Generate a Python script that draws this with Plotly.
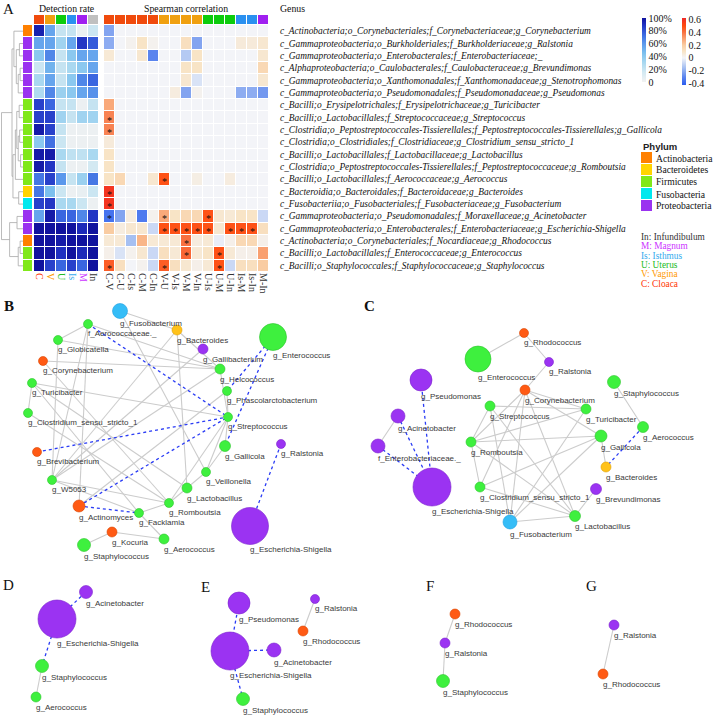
import plotly.graph_objects as go

W, H = 713, 715
SERIF = "Liberation Serif, Times New Roman, serif"
SANS = "Liberation Sans, Arial, sans-serif"

# ---------------- data : heatmap ----------------
genus_labels = [
    "c_Actinobacteria;o_Corynebacteriales;f_Corynebacteriaceae;g_Corynebacterium",
    "c_Gammaproteobacteria;o_Burkholderiales;f_Burkholderiaceae;g_Ralstonia",
    "c_Gammaproteobacteria;o_Enterobacterales;f_Enterobacteriaceae;_",
    "c_Alphaproteobacteria;o_Caulobacterales;f_Caulobacteraceae;g_Brevundimonas",
    "c_Gammaproteobacteria;o_Xanthomonadales;f_Xanthomonadaceae;g_Stenotrophomonas",
    "c_Gammaproteobacteria;o_Pseudomonadales;f_Pseudomonadaceae;g_Pseudomonas",
    "c_Bacilli;o_Erysipelotrichales;f_Erysipelotrichaceae;g_Turicibacter",
    "c_Bacilli;o_Lactobacillales;f_Streptococcaceae;g_Streptococcus",
    "c_Clostridia;o_Peptostreptococcales-Tissierellales;f_Peptostreptococcales-Tissierellales;g_Gallicola",
    "c_Clostridia;o_Clostridiales;f_Clostridiaceae;g_Clostridium_sensu_stricto_1",
    "c_Bacilli;o_Lactobacillales;f_Lactobacillaceae;g_Lactobacillus",
    "c_Clostridia;o_Peptostreptococcales-Tissierellales;f_Peptostreptococcaceae;g_Romboutsia",
    "c_Bacilli;o_Lactobacillales;f_Aerococcaceae;g_Aerococcus",
    "c_Bacteroidia;o_Bacteroidales;f_Bacteroidaceae;g_Bacteroides",
    "c_Fusobacteriia;o_Fusobacteriales;f_Fusobacteriaceae;g_Fusobacterium",
    "c_Gammaproteobacteria;o_Pseudomonadales;f_Moraxellaceae;g_Acinetobacter",
    "c_Gammaproteobacteria;o_Enterobacterales;f_Enterobacteriaceae;g_Escherichia-Shigella",
    "c_Actinobacteria;o_Corynebacteriales;f_Nocardiaceae;g_Rhodococcus",
    "c_Bacilli;o_Lactobacillales;f_Enterococcaceae;g_Enterococcus",
    "c_Bacilli;o_Staphylococcales;f_Staphylococcaceae;g_Staphylococcus",
]

phyla = ["Actinobacteria", "Bacteroidetes", "Firmicutes", "Fusobacteria", "Proteobacteria"]
row_phylum = ["Actinobacteria"] + ["Proteobacteria"] * 5 + ["Firmicutes"] * 7 + \
             ["Bacteroidetes", "Fusobacteria", "Proteobacteria", "Proteobacteria",
              "Actinobacteria", "Firmicutes", "Firmicutes"]

regions = ["C", "V", "U", "Is", "M", "In"]
region_names = ["Cloaca", "Vagina", "Uterus", "Isthmus", "Magnum", "Infundibulum"]
pairs = ["C-V", "C-U", "C-Is", "C-M", "C-In", "V-U", "V-Is", "V-M", "V-In",
         "U-Is", "U-M", "U-In", "Is-M", "Is-In", "M-In"]
pair_group = ["C"] * 5 + ["V"] * 4 + ["U"] * 3 + ["Is"] * 2 + ["M"]

# detection rate (%) : rows x [C, V, U, Is, M, In]
detection = [
    [95, 55, 20, 20, 4, 18],
    [55, 55, 33, 55, 88, 78],
    [40, 65, 20, 40, 55, 55],
    [18, 50, 20, 30, 40, 55],
    [30, 55, 20, 40, 65, 75],
    [28, 65, 35, 40, 55, 62],
    [85, 75, 20, 20, 3, 20],
    [85, 85, 33, 20, 33, 33],
    [97, 85, 20, 3, 3, 3],
    [40, 72, 18, 3, 3, 3],
    [97, 97, 30, 22, 22, 30],
    [97, 88, 20, 3, 3, 15],
    [70, 85, 60, 20, 35, 70],
    [70, 45, 18, 3, 5, 18],
    [85, 88, 30, 30, 18, 3],
    [55, 97, 75, 75, 65, 88],
    [100, 100, 100, 100, 92, 100],
    [100, 100, 97, 100, 100, 100],
    [100, 100, 90, 100, 92, 100],
    [100, 85, 75, 85, 75, 100],
]

# Spearman correlation : rows x pairs
correlation = [
    [-0.22, 0, 0, 0, 0, 0, 0, 0, 0, 0, 0, 0, 0, 0, 0],
    [-0.2, 0, 0.02, 0.1, 0.02, 0, 0, 0.12, -0.22, 0, 0, 0, 0.06, 0.06, 0.08],
    [0.07, 0, 0, 0.08, -0.3, 0, 0, -0.12, 0.1, 0, 0, 0, 0, 0, 0.08],
    [0, 0, 0, 0, 0, 0, 0, 0.1, 0.1, 0, 0, 0, 0, 0, 0.15],
    [0, 0, 0, 0, 0, 0, 0, 0.08, -0.05, 0, 0, 0, 0, 0, 0.08],
    [0, 0, 0, 0, 0, 0, 0.05, -0.22, 0.02, 0, 0, 0, -0.2, -0.2, -0.25],
    [0.28, 0, 0, 0, 0, 0, 0, 0, 0, 0, 0, 0, 0, 0, 0],
    [0.36, 0, 0, 0, 0, 0, 0, 0, 0, 0, 0, 0, 0, 0, 0],
    [0.36, 0, 0, 0, 0, 0, 0, 0, 0, 0, 0, 0, 0, 0, 0],
    [0.06, 0, 0, 0, 0, 0, 0, 0, 0, 0, 0, 0, 0, 0, 0],
    [0.1, 0, 0, 0, 0, 0, 0, 0, 0, 0, 0, 0, 0, 0, 0],
    [0.1, 0, 0, 0, 0, 0, 0, 0, 0, 0, 0, 0, 0, 0, 0],
    [0.1, 0.15, 0, 0, 0.08, 0.48, 0, 0, 0.04, 0, 0, 0.05, 0, 0, 0],
    [0.58, 0, 0, 0, 0, 0, 0, 0, 0, 0, 0, 0, 0, 0, 0],
    [0.58, 0, 0, 0, 0, 0, 0, 0, 0, 0, 0, 0, 0, 0, 0],
    [-0.35, -0.22, 0.05, -0.33, 0.02, 0.28, 0.1, 0.15, 0.15, 0.48, 0.08, 0.07, 0.1, 0.1, -0.08],
    [0.2, 0.05, 0.08, 0.08, -0.08, 0.48, 0.48, 0.48, 0.48, 0.48, 0.08, 0.48, 0.48, 0.48, 0.12],
    [0.07, 0.07, -0.15, 0.25, 0.07, 0.07, 0.07, 0.4, 0.05, 0.07, -0.02, 0.03, 0.15, 0.15, 0.03],
    [0.03, -0.05, 0.02, 0.08, -0.08, 0.12, 0.07, 0.42, 0.07, 0.1, 0.48, 0.07, 0.03, 0.03, 0.3],
    [0.45, 0.12, 0, 0.02, -0.08, 0.45, 0.12, 0.08, 0.03, 0.07, 0.48, -0.08, 0.12, 0.12, 0.2],
]

# significance ('1' = marked with *)
significance = [
    "000000000000000", "000000000000000", "000000000000000", "000000000000000",
    "000000000000000", "000000000000000", "000000000000000", "100000000000000",
    "100000000000000", "000000000000000", "000000000000000", "000000000000000",
    "000001000000000", "100000000000000", "100000000000000", "100001000100000",
    "000001111101110", "000000010000000", "000000010010000", "100001000010000",
]

# dendrogram merges (child a, child b, height); new clusters numbered from 20
merges = [
    (1, 2, 1.5), (3, 4, 1.2), (21, 5, 2.0), (20, 22, 2.8), (0, 23, 3.8),
    (6, 7, 1.6), (8, 9, 1.4), (10, 11, 1.0), (26, 27, 2.0), (25, 28, 2.6),
    (29, 12, 3.2), (13, 14, 1.8), (30, 31, 4.2), (24, 32, 4.6),
    (15, 16, 2.5), (17, 18, 1.2), (35, 19, 2.0), (34, 36, 5.6), (33, 37, 9.0),
]

# ---------------- data : networks ----------------
# (label, layout x, layout y, node size, phylum)
net_B_nodes = [
    ("g_Fusobacterium", 120, 311, 15, "Fusobacteria"),
    ("f_Aerococcaceae._", 88, 324, 9, "Firmicutes"),
    ("g_Bacteroides", 177, 330, 10, "Bacteroidetes"),
    ("g_Gallibacterium", 203, 349, 10, "Proteobacteria"),
    ("g_Enterococcus", 273, 337, 27, "Firmicutes"),
    ("g_Globicatella", 58, 340, 9, "Firmicutes"),
    ("g_Corynebacterium", 43, 361, 9, "Actinobacteria"),
    ("g_Helcococcus", 220, 369, 10, "Firmicutes"),
    ("g_Turicibacter", 32, 383, 9, "Firmicutes"),
    ("g_Phascolarctobacterium", 227, 391, 9, "Firmicutes"),
    ("g_Clostridium_sensu_stricto_1", 28, 413, 9, "Firmicutes"),
    ("g_Streptococcus", 228, 417, 9, "Firmicutes"),
    ("g_Brevibacterium", 37, 452, 9, "Actinobacteria"),
    ("g_Gallicola", 225, 446, 11, "Firmicutes"),
    ("g_Ralstonia", 281, 444, 9, "Proteobacteria"),
    ("g_Veillonella", 206, 472, 9, "Firmicutes"),
    ("g_W5053", 52, 480, 9, "Firmicutes"),
    ("g_Lactobacillus", 187, 488, 10, "Firmicutes"),
    ("g_Actinomyces", 79, 506, 12, "Actinobacteria"),
    ("g_Romboutsia", 169, 503, 9, "Firmicutes"),
    ("g_Facklamia", 139, 513, 9, "Firmicutes"),
    ("g_Kocuria", 112, 532, 10, "Actinobacteria"),
    ("g_Aerococcus", 164, 539, 10, "Firmicutes"),
    ("g_Staphylococcus", 84, 545, 13, "Firmicutes"),
    ("g_Escherichia-Shigella", 250, 526, 37, "Proteobacteria"),
]
net_B_pos = [
    ("g_Fusobacterium", "g_Bacteroides"), ("g_Fusobacterium", "g_Veillonella"),
    ("f_Aerococcaceae._", "g_Globicatella"), ("f_Aerococcaceae._", "g_W5053"),
    ("f_Aerococcaceae._", "g_Actinomyces"), ("f_Aerococcaceae._", "g_Helcococcus"),
    ("g_Globicatella", "g_Helcococcus"), ("g_Globicatella", "g_W5053"),
    ("g_Corynebacterium", "g_Helcococcus"), ("g_Corynebacterium", "g_Romboutsia"),
    ("g_Turicibacter", "g_Streptococcus"), ("g_Turicibacter", "g_Clostridium_sensu_stricto_1"),
    ("g_Turicibacter", "g_Lactobacillus"), ("g_Turicibacter", "g_Facklamia"),
    ("g_Clostridium_sensu_stricto_1", "g_Romboutsia"),
    ("g_Bacteroides", "g_Helcococcus"), ("g_Bacteroides", "g_W5053"),
    ("g_Bacteroides", "g_Lactobacillus"), ("g_Gallibacterium", "g_W5053"),
    ("g_Helcococcus", "g_Streptococcus"), ("g_Helcococcus", "g_W5053"),
    ("g_Phascolarctobacterium", "g_Streptococcus"), ("g_Phascolarctobacterium", "g_Actinomyces"),
    ("g_Streptococcus", "g_Gallicola"), ("g_Streptococcus", "g_Veillonella"),
    ("g_Streptococcus", "g_Romboutsia"), ("g_Gallicola", "g_Veillonella"),
    ("g_Veillonella", "g_Lactobacillus"), ("g_Lactobacillus", "g_Romboutsia"),
    ("g_W5053", "g_Romboutsia"), ("g_W5053", "g_Facklamia"),
    ("g_Romboutsia", "g_Facklamia"), ("g_Facklamia", "g_Aerococcus"),
    ("g_Kocuria", "g_Aerococcus"), ("g_Kocuria", "g_Staphylococcus"),
]
net_B_neg = [
    ("f_Aerococcaceae._", "g_Streptococcus"), ("g_Enterococcus", "g_Phascolarctobacterium"),
    ("g_Enterococcus", "g_Gallicola"), ("g_Brevibacterium", "g_Streptococcus"),
    ("g_Actinomyces", "g_Streptococcus"), ("g_Actinomyces", "g_Facklamia"),
    ("g_Ralstonia", "g_Escherichia-Shigella"),
]

net_C_nodes = [
    ("g_Rhodococcus", 524, 333, 9, "Actinobacteria"),
    ("g_Enterococcus", 478, 359, 26, "Firmicutes"),
    ("g_Ralstonia", 549, 362, 9, "Proteobacteria"),
    ("g_Pseudomonas", 421, 380, 22, "Proteobacteria"),
    ("g_Corynebacterium", 525, 390, 10, "Actinobacteria"),
    ("g_Staphylococcus", 614, 382, 13, "Firmicutes"),
    ("g_Streptococcus", 490, 406, 10, "Firmicutes"),
    ("g_Turicibacter", 586, 409, 10, "Firmicutes"),
    ("g_Acinetobacter", 398, 416, 14, "Proteobacteria"),
    ("g_Aerococcus", 643, 427, 11, "Firmicutes"),
    ("g_Gallicola", 601, 436, 12, "Firmicutes"),
    ("g_Romboutsia", 471, 442, 10, "Firmicutes"),
    ("f_Enterobacteriaceae._", 378, 446, 14, "Proteobacteria"),
    ("g_Bacteroides", 606, 467, 10, "Bacteroidetes"),
    ("g_Escherichia-Shigella", 432, 487, 38, "Proteobacteria"),
    ("g_Clostridium_sensu_stricto_1", 480, 487, 10, "Firmicutes"),
    ("g_Brevundimonas", 596, 489, 11, "Proteobacteria"),
    ("g_Lactobacillus", 575, 516, 11, "Firmicutes"),
    ("g_Fusobacterium", 510, 522, 14, "Fusobacteria"),
]
net_C_pos = [
    ("g_Rhodococcus", "g_Enterococcus"), ("g_Rhodococcus", "g_Ralstonia"),
    ("g_Ralstonia", "g_Corynebacterium"), ("g_Staphylococcus", "g_Aerococcus"),
    ("g_Acinetobacter", "f_Enterobacteriaceae._"),
    ("g_Corynebacterium", "g_Romboutsia"), ("g_Corynebacterium", "g_Turicibacter"),
    ("g_Corynebacterium", "g_Gallicola"), ("g_Corynebacterium", "g_Clostridium_sensu_stricto_1"),
    ("g_Corynebacterium", "g_Fusobacterium"), ("g_Corynebacterium", "g_Lactobacillus"),
    ("g_Streptococcus", "g_Turicibacter"), ("g_Streptococcus", "g_Romboutsia"),
    ("g_Streptococcus", "g_Lactobacillus"), ("g_Streptococcus", "g_Fusobacterium"),
    ("g_Turicibacter", "g_Romboutsia"), ("g_Turicibacter", "g_Fusobacterium"),
    ("g_Romboutsia", "g_Clostridium_sensu_stricto_1"), ("g_Romboutsia", "g_Gallicola"),
    ("g_Romboutsia", "g_Lactobacillus"),
    ("g_Gallicola", "g_Bacteroides"), ("g_Gallicola", "g_Clostridium_sensu_stricto_1"),
    ("g_Gallicola", "g_Fusobacterium"),
    ("g_Clostridium_sensu_stricto_1", "g_Lactobacillus"),
    ("g_Fusobacterium", "g_Lactobacillus"), ("g_Brevundimonas", "g_Lactobacillus"),
]
net_C_neg = [
    ("g_Pseudomonas", "g_Escherichia-Shigella"), ("g_Acinetobacter", "g_Escherichia-Shigella"),
    ("f_Enterobacteriaceae._", "g_Escherichia-Shigella"), ("g_Aerococcus", "g_Bacteroides"),
]

net_D_nodes = [
    ("g_Escherichia-Shigella", 57, 619, 38, "Proteobacteria"),
    ("g_Acinetobacter", 86, 592, 13, "Proteobacteria"),
    ("g_Staphylococcus", 42, 666, 13, "Firmicutes"),
    ("g_Aerococcus", 36, 697, 10, "Firmicutes"),
]
net_D_pos = [("g_Staphylococcus", "g_Aerococcus")]
net_D_neg = [("g_Escherichia-Shigella", "g_Acinetobacter"), ("g_Escherichia-Shigella", "g_Staphylococcus")]

net_E_nodes = [
    ("g_Pseudomonas", 239, 603, 22, "Proteobacteria"),
    ("g_Ralstonia", 315, 599, 9, "Proteobacteria"),
    ("g_Rhodococcus", 303, 631, 10, "Actinobacteria"),
    ("g_Escherichia-Shigella", 230, 651, 38, "Proteobacteria"),
    ("g_Acinetobacter", 274, 650, 14, "Proteobacteria"),
    ("g_Staphylococcus", 243, 699, 13, "Firmicutes"),
]
net_E_pos = [("g_Ralstonia", "g_Rhodococcus")]
net_E_neg = [("g_Pseudomonas", "g_Escherichia-Shigella"), ("g_Escherichia-Shigella", "g_Acinetobacter"),
             ("g_Escherichia-Shigella", "g_Staphylococcus")]

net_F_nodes = [
    ("g_Rhodococcus", 455, 614, 10, "Actinobacteria"),
    ("g_Ralstonia", 445, 643, 10, "Proteobacteria"),
    ("g_Staphylococcus", 443, 681, 13, "Firmicutes"),
]
net_F_pos = [("g_Rhodococcus", "g_Ralstonia"), ("g_Ralstonia", "g_Staphylococcus")]
net_F_neg = []

net_G_nodes = [
    ("g_Ralstonia", 614, 625, 10, "Proteobacteria"),
    ("g_Rhodococcus", 603, 674, 10, "Actinobacteria"),
]
net_G_pos = [("g_Ralstonia", "g_Rhodococcus")]
net_G_neg = []

# ---------------- styles ----------------
region_strip_color = {"C": "#f04a0c", "V": "#f0a010", "U": "#0ccc0c", "Is": "#2a90f0",
                      "M": "#a020f0", "In": "#c0c0c0"}
region_text_color = {"C": "#ff3300", "V": "#ff9900", "U": "#22bb22", "Is": "#33aaee",
                     "M": "#cc33ff", "In": "#333333"}
phylum_color = {"Actinobacteria": "#ff8000", "Bacteroidetes": "#ffd400", "Firmicutes": "#80e81a",
                "Fusobacteria": "#00e8ee", "Proteobacteria": "#9a32f0"}
node_color = {"Actinobacteria": "#ff5a14", "Bacteroidetes": "#ffc21a", "Firmicutes": "#3ef03e",
              "Fusobacteria": "#35bdf7", "Proteobacteria": "#9b33f2"}
node_line = {"Actinobacteria": "#d94400", "Bacteroidetes": "#dfa000", "Firmicutes": "#2cc42c",
             "Fusobacteria": "#1f9fe0", "Proteobacteria": "#7a22cc"}

det_scale = [[0, "#f2f2f2"], [0.15, "#d3e9f2"], [0.3, "#a9d8f0"], [0.45, "#7cc0ee"],
             [0.6, "#5b98ec"], [0.75, "#3a66e0"], [0.9, "#1f2fc0"], [1, "#10129e"]]
CZMIN, CZMAX = -0.42, 0.62


def cz(v):
    return (v - CZMIN) / (CZMAX - CZMIN)


corr_scale = [[0, "#2b5cf0"], [cz(-0.3), "#5a84ee"], [cz(-0.15), "#a6c0f2"], [cz(0), "#f3f4f8"],
              [cz(0.1), "#f8e4c6"], [cz(0.2), "#f9cca2"], [cz(0.3), "#f9a070"], [cz(0.4), "#f87040"],
              [cz(0.5), "#ff4a0c"], [1, "#ee2a2a"]]


def discrete_scale(colors):
    n = len(colors)
    sc = []
    for i, c in enumerate(colors):
        sc.append([i / n, c])
        sc.append([(i + 1) / n, c])
    return sc


# ---------------- figure ----------------
fig = go.Figure()
axes_layout = {}
n_axes = [0]


def new_axes(box, xr=None, yr=None, xextra=None, yextra=None):
    """box = (left, top, right, bottom) in figure pixels"""
    n_axes[0] += 1
    n = n_axes[0]
    s = "" if n == 1 else str(n)
    l, t, r, b = box
    base = dict(showgrid=False, zeroline=False, showticklabels=False, ticks="",
                showline=False, fixedrange=True)
    xa = dict(base)
    xa.update(domain=[l / W, r / W], anchor="y" + s)
    if xr is not None:
        xa["range"] = xr
    xa.update(xextra or {})
    ya = dict(base)
    ya.update(domain=[1 - b / H, 1 - t / H], anchor="x" + s)
    if yr is not None:
        ya["range"] = yr
    ya.update(yextra or {})
    axes_layout["xaxis" + s] = xa
    axes_layout["yaxis" + s] = ya
    return "x" + s, "y" + s


NR = len(genus_labels)
ROW_T, ROW_B = 25, 272
row_range = [NR - 0.5, -0.5]

# detection heatmap
xd, yd = new_axes((34, ROW_T, 99, ROW_B), [-0.5, 5.5], row_range,
                  xextra=dict(showticklabels=True, tickmode="array", tickvals=list(range(6)),
                              ticktext=['<span style="color:%s">%s</span>' % (region_text_color[r], r)
                                        for r in regions],
                              tickangle=90, tickfont=dict(family=SERIF, size=10)))
fig.add_trace(go.Heatmap(z=detection, x=list(range(6)), y=list(range(NR)), colorscale=det_scale,
                         zmin=0, zmax=100, xgap=1, ygap=1, xaxis=xd, yaxis=yd, hoverinfo="skip",
                         colorbar=dict(x=641.5 / W, xanchor="left", y=1 - 18 / H, yanchor="top",
                                       len=64, lenmode="pixels", thickness=4, thicknessmode="pixels",
                                       xpad=0, ypad=0, outlinewidth=0, ticks="",
                                       tickvals=[0, 20, 40, 60, 80, 100],
                                       ticktext=["0", "20%", "40%", "60%", "80%", "100%"],
                                       tickfont=dict(family=SERIF, size=10, color="#111"))))

# correlation heatmap
xc, yc = new_axes((104, ROW_T, 269, ROW_B), [-0.5, 14.5], row_range,
                  xextra=dict(showticklabels=True, tickmode="array", tickvals=list(range(15)),
                              ticktext=pairs, tickangle=90,
                              tickfont=dict(family=SERIF, size=10, color="#333")))
fig.add_trace(go.Heatmap(z=correlation, x=list(range(15)), y=list(range(NR)), colorscale=corr_scale,
                         zmin=CZMIN, zmax=CZMAX, xgap=1, ygap=1, xaxis=xc, yaxis=yc, hoverinfo="skip",
                         colorbar=dict(x=681.5 / W, xanchor="left", y=1 - 18 / H, yanchor="top",
                                       len=67, lenmode="pixels", thickness=4, thicknessmode="pixels",
                                       xpad=0, ypad=0, outlinewidth=0, ticks="",
                                       tickvals=[-0.4, -0.2, 0, 0.2, 0.4, 0.6],
                                       ticktext=["-0.4", "-0.2", "0", "0.2", "0.4", "0.6"],
                                       tickfont=dict(family=SERIF, size=10, color="#111"))))

# top strips
reg_colors = [region_strip_color[r] for r in regions]
xs1, ys1 = new_axes((34, 15, 99, 24), [-0.5, 5.5], [-0.5, 0.5])
fig.add_trace(go.Heatmap(z=[list(range(6))], x=list(range(6)), y=[0], colorscale=discrete_scale(reg_colors),
                         zmin=-0.5, zmax=5.5, xgap=1, showscale=False, xaxis=xs1, yaxis=ys1, hoverinfo="skip"))
xs2, ys2 = new_axes((104, 15, 269, 24), [-0.5, 14.5], [-0.5, 0.5])
fig.add_trace(go.Heatmap(z=[[regions.index(g) for g in pair_group]], x=list(range(15)), y=[0],
                         colorscale=discrete_scale(reg_colors), zmin=-0.5, zmax=5.5, xgap=1,
                         showscale=False, xaxis=xs2, yaxis=ys2, hoverinfo="skip"))

# phylum strip
ph_colors = [phylum_color[p] for p in phyla]
xp, yp = new_axes((23, ROW_T, 32, ROW_B), [-0.5, 0.5], row_range)
fig.add_trace(go.Heatmap(z=[[phyla.index(p)] for p in row_phylum], x=[0], y=list(range(NR)),
                         colorscale=discrete_scale(ph_colors), zmin=-0.5, zmax=4.5, ygap=1,
                         showscale=False, xaxis=xp, yaxis=yp, hoverinfo="skip"))

# dendrogram
pos = {i: (0.0, float(i)) for i in range(NR)}
dx, dy = [], []
for k, (a, b, h) in enumerate(merges):
    ha, ya = pos[a]
    hb, yb = pos[b]
    dx += [ha, h, h, hb, None]
    dy += [ya, ya, yb, yb, None]
    pos[NR + k] = (h, (ya + yb) / 2)
xdn, ydn = new_axes((1, ROW_T, 23, ROW_B), [9.2, 0], row_range)
fig.add_trace(go.Scatter(x=dx, y=dy, mode="lines", line=dict(color="#a8a8a8", width=0.8),
                         xaxis=xdn, yaxis=ydn, hoverinfo="skip", showlegend=False))

# phylum legend boxes
xl, yl = new_axes((641, 152, 652, 212), [-0.5, 0.5], [4.5, -0.5])
fig.add_trace(go.Heatmap(z=[[i] for i in range(5)], x=[0], y=list(range(5)),
                         colorscale=discrete_scale(ph_colors), zmin=-0.5, zmax=4.5, ygap=1,
                         showscale=False, xaxis=xl, yaxis=yl, hoverinfo="skip"))

annotations = []


def ann(text, x, y, size, family=SERIF, color="#111", xanchor="left", **kw):
    d = dict(text=text, x=x / W, y=1 - y / H, xref="paper", yref="paper", showarrow=False,
             xanchor=xanchor, yanchor="middle", font=dict(family=family, size=size, color=color))
    d.update(kw)
    annotations.append(d)


# genus labels
for i, g in enumerate(genus_labels):
    annotations.append(dict(text="<i>%s</i>" % g, x=278 / W, xref="paper", y=i, yref=yc,
                            showarrow=False, xanchor="left", yanchor="middle",
                            font=dict(family=SERIF, size=9.4, color="#111")))
# stars
for i, row in enumerate(significance):
    for j, flag in enumerate(row):
        if flag == "1":
            annotations.append(dict(text="*", x=j, y=i, xref=xc, yref=yc, showarrow=False,
                                    yshift=-2.5, font=dict(family=SERIF, size=10, color="#111")))

ann("A", 1, 9, 15)
ann("Detection rate", 67, 8, 9.8, xanchor="center")
ann("Spearman correlation", 186, 8, 9.8, xanchor="center")
ann("Genus", 278, 8, 9.8)
ann("<b>Phylum</b>", 641, 146, 9.5, family=SANS, color="#222")
for i, p in enumerate(phyla):
    ann(p, 654, 158 + 12 * i, 9.6)
for i, r in enumerate(reversed(regions)):
    ann("%s: %s" % (r, list(reversed(region_names))[i]), 639, 237 + 9.3 * i, 9.3,
        color=region_text_color[r] if r != "In" else "#333")

# networks
panels = [
    ("<b>B</b>", (2, 306), (0, 290, 360, 580), net_B_nodes, net_B_pos, net_B_neg),
    ("<b>C</b>", (362, 306), (357, 290, 713, 560), net_C_nodes, net_C_pos, net_C_neg),
    ("D", (1, 585), (0, 575, 190, 715), net_D_nodes, net_D_pos, net_D_neg),
    ("E", (199, 587), (190, 575, 370, 715), net_E_nodes, net_E_pos, net_E_neg),
    ("F", (424, 586), (400, 575, 570, 715), net_F_nodes, net_F_pos, net_F_neg),
    ("G", (584, 586), (570, 575, 713, 715), net_G_nodes, net_G_pos, net_G_neg),
]
for letter, lpos, box, nodes, pos_edges, neg_edges in panels:
    l, t, r, b = box
    xn, yn = new_axes(box, [l, r], [b, t])
    ann(letter, lpos[0], lpos[1], 15)
    lookup = {n[0]: n for n in nodes}
    for edges, style in ((pos_edges, dict(color="#cccccc", width=1.1)),
                         (neg_edges, dict(color="#2a3cf5", width=1.3, dash="dot"))):
        ex, ey = [], []
        for a, c in edges:
            ex += [lookup[a][1], lookup[c][1], None]
            ey += [lookup[a][2], lookup[c][2], None]
        if ex:
            fig.add_trace(go.Scatter(x=ex, y=ey, mode="lines", line=style, xaxis=xn, yaxis=yn,
                                     hoverinfo="skip", showlegend=False))
    fig.add_trace(go.Scatter(
        x=[n[1] for n in nodes], y=[n[2] for n in nodes], mode="markers",
        marker=dict(size=[n[3] for n in nodes], color=[node_color[n[4]] for n in nodes],
                    line=dict(color=[node_line[n[4]] for n in nodes], width=0.6), opacity=1),
        xaxis=xn, yaxis=yn, hoverinfo="skip", showlegend=False, cliponaxis=False))
    fig.add_trace(go.Scatter(
        x=[n[1] for n in nodes], y=[n[2] + n[3] / 2 + 1.5 for n in nodes], mode="text",
        text=[n[0] for n in nodes], textposition="bottom right",
        textfont=dict(family=SANS, size=8, color="#3a3a3a"),
        xaxis=xn, yaxis=yn, hoverinfo="skip", showlegend=False, cliponaxis=False))

fig.update_layout(width=W, height=H, margin=dict(l=0, r=0, t=0, b=0),
                  paper_bgcolor="white", plot_bgcolor="white", showlegend=False,
                  annotations=annotations, **axes_layout)
fig.write_html("out.html", config={"displayModeBar": False},
               post_script="document.body.style.margin='0px';document.body.style.overflow='hidden';")
